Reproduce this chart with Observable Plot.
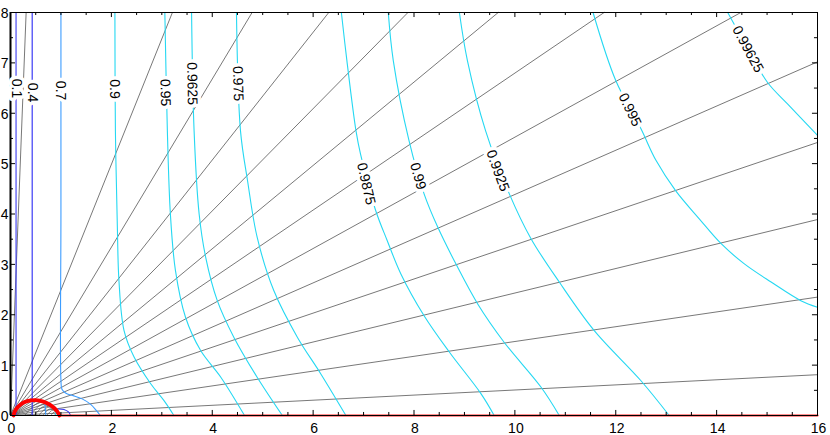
<!DOCTYPE html>
<html><head><meta charset="utf-8">
<script src="https://cdn.jsdelivr.net/npm/d3@7"></script>
<script src="https://cdn.jsdelivr.net/npm/@observablehq/plot@0.6"></script>
<style>html,body{margin:0;padding:0;background:#fff;} svg{display:block;}</style>
</head><body><div id="chart"></div>
<script>
// ---- tick labels ----
const xTickLabels = [0, 2, 4, 6, 8, 10, 12, 14, 16];
const yTickLabels = [0, 1, 2, 3, 4, 5, 6, 7, 8];

// ---- contour levels and their traces (x, y) ----
const levels = ["0.1", "0.4", "0.7", "0.9", "0.95", "0.9625", "0.975", "0.9875", "0.99", "0.9925", "0.995", "0.99625"];
const c0100 = [[0.11, 8], [0.11, 0]];
const c0400 = [[0.43, 8], [0.43, 0]];
const c0700 = [[1.0, 8], [1.0, 4], [1.0, 0.7], [1.02, 0.52], [1.1, 0.44], [1.22, 0.4], [1.42, 0.33], [1.59, 0.22], [1.7, 0.1], [1.78, 0]];
const c0900 = [[2.07, 8], [2.08, 5.65], [2.12, 3.67], [2.15, 2.68], [2.25, 1.69], [2.45, 1.16], [2.78, 0.63], [3.04, 0.3], [3.24, 0]];
const c0950 = [[3.06, 8], [3.11, 5.65], [3.17, 4.0], [3.27, 2.88], [3.47, 1.95], [3.77, 1.29], [4.17, 0.76], [4.64, 0]];
const c0962 = [[3.59, 8], [3.64, 5.65], [3.74, 4.0], [3.87, 3.14], [4.1, 2.28], [4.43, 1.55], [4.89, 0.76], [5.39, 0]];
const c0975 = [[4.48, 8], [4.56, 5.65], [4.7, 4.66], [4.89, 3.54], [5.22, 2.48], [5.69, 1.55], [6.15, 0.83], [6.65, 0]];
const c0987 = [[6.56, 8], [6.67, 7.04], [6.85, 5.65], [6.94, 5.19], [7.24, 4.07], [7.47, 3.47], [7.74, 2.81], [8.2, 1.98], [8.7, 1.26], [9.33, 0.43], [9.59, 0]];
const c0990 = [[7.49, 8], [7.59, 7.04], [7.9, 5.46], [8.2, 4.4], [8.47, 3.74], [8.83, 3.01], [9.26, 2.22], [9.79, 1.45], [10.52, 0.56], [10.88, 0]];
const c0992 = [[8.9, 8], [9.06, 7.04], [9.42, 5.65], [9.89, 4.4], [10.32, 3.51], [10.88, 2.65], [11.57, 1.69], [12.5, 0.69], [13.06, 0]];
const c0995 = [[11.55, 8], [12.0, 6.65], [12.5, 5.69], [12.8, 5.06], [13.19, 4.46], [13.66, 3.9], [14.09, 3.41], [14.55, 3.01], [15.08, 2.65], [15.67, 2.28], [16, 2.15]];
const c0996 = [[14.22, 8], [14.62, 7.28], [15.01, 6.61], [15.41, 6.18], [16, 5.56]];
const contourTraces = [c0100, c0400, c0700, c0900, c0950, c0962, c0975, c0987, c0990, c0992, c0995, c0996];
const contourColors = ["#3b3bf0", "#2a2af5", "#3c9cff", "#25d8f2", "#25d8f2", "#25d8f2", "#25d8f2", "#25d8f2", "#25d8f2", "#25d8f2", "#25d8f2", "#25d8f2"];

// small contour pieces inside the red arc
const innerA = [[0.68, 0.28], [0.69, 0.15], [0.7, 0]];
const innerB = [[0.88, 0.17], [0.89, 0.08], [0.9, 0]];
const innerC = [[0.95, 0.13], [1.06, 0.12], [1.15, 0.07], [1.19, 0]];
const innerTraces = [innerA, innerB, innerC];
const innerColors = ["#3c9cff", "#25d8f2", "#3b3bf0"];

// ---- label positions and text direction ----
const labelX = [0.11, 0.43, 0.99, 2.07, 3.07, 3.6, 4.51, 7.05, 8.08, 9.66, 12.28, 14.62];
const labelY = [6.49, 6.41, 6.45, 6.48, 6.41, 6.59, 6.59, 4.6, 4.75, 4.86, 6.07, 7.27];
const labelAngle = [90, 90, 90, 90, 89, 89, 88, 77, 74, 70, 64, 62];

// ---- straight grey lines from the origin: far end points ----
const rayEndX = [0.31, 3.21, 4.79, 6.31, 7.88, 9.67, 11.77, 14.48, 16, 16, 16, 16, 16];
const rayEndY = [8, 8, 8, 8, 8, 8, 8, 8, 7.02, 5.42, 3.89, 2.35, 0.81];

// ---- grey arcs inside the red arc (left end, peak height); right end at 0.97 ----
const arcLeftX = [0.28, 0.38, 0.47, 0.56, 0.64, 0.72, 0.8, 0.87];
const arcPeakY = [0.27, 0.23, 0.2, 0.165, 0.135, 0.105, 0.075, 0.045];
const arcRightX = 0.97;

// ---- red boundary ----
const redArc = [[0.06, 0], [0.1, 0.11], [0.2, 0.22], [0.35, 0.29], [0.5, 0.305], [0.65, 0.275], [0.8, 0.2], [0.92, 0.09], [0.97, 0]];
const redBase = [[0.97, 0], [16, 0]];

// ---- build tables ----
const contourRows = contourTraces.flatMap((pts, i) => pts.map(([x, y]) => ({x, y, k: i, color: contourColors[i]})));
const innerRows = innerTraces.flatMap((pts, i) => pts.map(([x, y]) => ({x, y, k: i, color: innerColors[i]})));
const rayRows = rayEndX.flatMap((x, i) => [{x: 0, y: 0, k: i}, {x, y: rayEndY[i], k: i}]);
const arcRows = arcLeftX.flatMap((x0, i) => [
  {x: x0, y: 0, k: i}, {x: (x0 + arcRightX) / 2, y: arcPeakY[i], k: i}, {x: arcRightX, y: 0, k: i}
]);
const labelRows = levels.map((t, i) => ({t, x: labelX[i], y: labelY[i], a: labelAngle[i]}));

const xTicks = d3.range(0, 16.01, 0.5);
const yTicks = d3.range(0, 8.01, 0.5);
const tl = (v, step) => (Math.abs(v / step - Math.round(v / step)) < 1e-9 ? 0.1 : 0.06);

const chart = Plot.plot({
  width: 830,
  height: 435,
  marginLeft: 10,
  marginRight: 13,
  marginTop: 12,
  marginBottom: 20,
  x: {domain: [0, 16], label: null, axis: null},
  y: {domain: [0, 8], label: null, axis: null},
  style: {fontFamily: "'Liberation Sans', Arial, Helvetica, sans-serif", fontSize: "14px", background: "#fff"},
  marks: [
    Plot.line(rayRows, {x: "x", y: "y", z: "k", stroke: "#555", strokeWidth: 0.8}),
    Plot.line(arcRows, {x: "x", y: "y", z: "k", stroke: "#555", strokeWidth: 0.7, curve: "natural"}),
    Plot.line(contourRows, {x: "x", y: "y", z: "k", stroke: "color", strokeWidth: 1.1, curve: "catmull-rom"}),
    Plot.line(innerRows, {x: "x", y: "y", z: "k", stroke: "color", strokeWidth: 1.1, curve: "catmull-rom"}),
    Plot.line(redBase, {stroke: "#ff2020", strokeWidth: 2.2}),
    Plot.line(redArc, {stroke: "#ff0000", strokeWidth: 3.8, curve: "catmull-rom"}),
    Plot.frame({stroke: "#000", strokeWidth: 1}),
    Plot.ruleX([0], {stroke: "#000", strokeWidth: 2}),
    Plot.ruleY([0], {stroke: "#000", strokeWidth: 1}),
    // inward ticks
    Plot.ruleX(xTicks, {x: d => d, y1: 0, y2: d => tl(d, 2), stroke: "#000"}),
    Plot.ruleX(xTicks, {x: d => d, y1: 8, y2: d => 8 - tl(d, 2), stroke: "#000"}),
    Plot.ruleY(yTicks, {y: d => d, x1: 0, x2: d => tl(d, 1), stroke: "#000"}),
    Plot.ruleY(yTicks, {y: d => d, x1: 16, x2: d => 16 - tl(d, 1), stroke: "#000"}),
    // tick labels
    Plot.text(xTickLabels, {x: d => d, y: 0, text: d => String(d), dy: 13, dx: 1, fontSize: 14, fill: "#000"}),
    Plot.text(yTickLabels, {x: 0, y: d => d, text: d => String(d), dx: -2, dy: 1, textAnchor: "end", fontSize: 14, fill: "#000"}),
    Plot.text(labelRows, {x: "x", y: "y", text: "t", rotate: "a", fontSize: 14, fill: "#000", stroke: "#fff", strokeWidth: 7})
  ]
});
document.getElementById("chart").appendChild(chart);
</script>
</body></html>
